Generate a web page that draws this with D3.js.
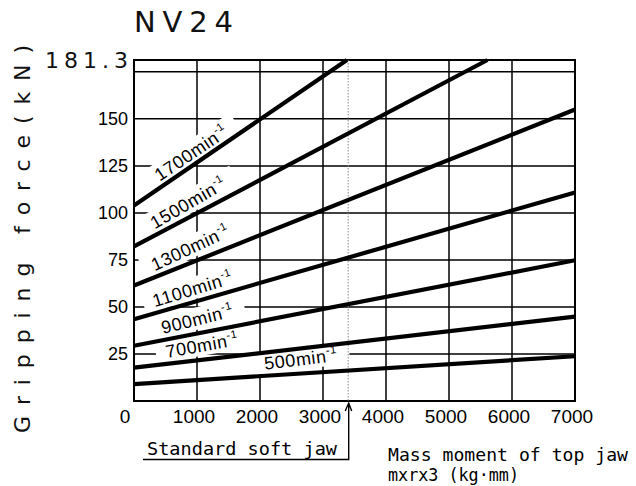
<!DOCTYPE html>
<html>
<head>
<meta charset="utf-8">
<script src="https://cdn.jsdelivr.net/npm/d3@7"></script>
<style>
  html, body { margin: 0; padding: 0; background: #fff; }
  svg { display: block; }
</style>
</head>
<body>
<svg id="chart" width="636" height="486"></svg>
<script>
// ---------------- data ----------------
const title = "NV24";
const speedLabels = ["1700", "1500", "1300", "1100", "900", "700", "500"];
// [mass moment (kg·mm), gripping force (kN)] : start and end of each line
const force1700 = [[0, 104.0], [3380, 181.3]];
const force1500 = [[0, 82.2], [5610, 181.3]];
const force1300 = [[0, 61.4], [7000, 155.0]];
const force1100 = [[0, 43.5], [7000, 110.9]];
const force900  = [[0, 29.4], [7000, 74.8]];
const force700  = [[0, 17.7], [7000, 44.9]];
const force500  = [[0, 9.0],  [7000, 23.8]];
const seriesValues = [force1700, force1500, force1300, force1100, force900, force700, force500];
// x-position (kg·mm) where each speed label starts
const labelAt = [410, 330, 330, 330, 460, 520, 2080];
const xTicks = [0, 1000, 2000, 3000, 4000, 5000, 6000, 7000];
const yTicks = [25, 50, 75, 100, 125, 150];
const yGrid = [25, 50, 75, 100, 125, 150, 175];
const yMax = 181.3;
const standardJaw = 3400;

// ---------------- drawing ----------------
const svg = d3.select("#chart");
const x = d3.scaleLinear().domain([0, 7000]).range([134, 575]);
const y = d3.scaleLinear().domain([0, yMax]).range([401, 60]);
const fNum = "'Liberation Sans', Arial, sans-serif";
const fWide = "'DejaVu Sans', Verdana, sans-serif";
const fMono = "'DejaVu Sans Mono', 'Liberation Mono', monospace";
const lineAngles = [34, 30, 25, 17, 14, 10, 7];

function labelTransform(d, i) {
  const s = seriesValues[i];
  const xv = labelAt[i];
  const yv = s[0][1] + (s[1][1] - s[0][1]) * (xv - s[0][0]) / (s[1][0] - s[0][0]);
  return `translate(${x(xv)},${y(yv) - 6}) rotate(${-lineAngles[i]})`;
}

const grid = svg.append("g");
// vertical grid
grid.selectAll("line.v").data(xTicks.slice(1, -1)).join("line")
  .attr("x1", d => x(d)).attr("x2", d => x(d))
  .attr("y1", y(yMax)).attr("y2", y(0))
  .attr("stroke", "#000").attr("stroke-width", 1.5);
// horizontal grid
grid.selectAll("line.h").data(yGrid).join("line")
  .attr("x1", x(0)).attr("x2", x(7000))
  .attr("y1", d => y(d)).attr("y2", d => y(d))
  .attr("stroke", "#000").attr("stroke-width", 1.5);

// white boxes behind the speed labels (grid is interrupted there)
const boxLayer = svg.append("g");

// border
svg.append("rect")
  .attr("x", x(0)).attr("y", y(yMax))
  .attr("width", x(7000) - x(0)).attr("height", y(0) - y(yMax))
  .attr("fill", "none").attr("stroke", "#000").attr("stroke-width", 2);

// standard soft jaw dotted line
svg.append("line")
  .attr("x1", x(standardJaw)).attr("x2", x(standardJaw))
  .attr("y1", y(yMax)).attr("y2", y(0))
  .attr("stroke", "#888").attr("stroke-width", 1).attr("stroke-dasharray", "1.5,1.5");

// data lines
const line = d3.line().x(d => x(d[0])).y(d => y(d[1]));
svg.append("g").selectAll("path").data(seriesValues).join("path")
  .attr("d", line).attr("fill", "none").attr("stroke", "#000").attr("stroke-width", 4.2);

// speed labels
const labelGroups = svg.append("g").selectAll("g").data(speedLabels).join("g")
  .attr("transform", labelTransform);
const texts = labelGroups.append("text")
  .attr("font-family", fNum).attr("font-size", 18).attr("letter-spacing", 0.6)
  .attr("fill", "#000");
texts.append("tspan").text(d => d + "min");
texts.append("tspan").attr("font-size", 11).attr("dy", -8).text("-1");
const widths = [];
texts.each(function () { widths.push(this.getComputedTextLength()); });
boxLayer.selectAll("rect").data(speedLabels).join("rect")
  .attr("transform", labelTransform)
  .attr("x", -10).attr("y", -18)
  .attr("width", (d, i) => widths[i] + 22).attr("height", 22)
  .attr("fill", "#fff");

// x tick labels
svg.append("g").selectAll("text").data(xTicks).join("text")
  .attr("x", d => d === 0 ? x(0) - 9 : x(d) - 3).attr("y", 423)
  .attr("text-anchor", "middle")
  .attr("font-family", fNum).attr("font-size", 19).attr("fill", "#000")
  .text(d => d);

// y tick labels
svg.append("g").selectAll("text").data(yTicks).join("text")
  .attr("x", 128).attr("y", d => y(d) + 6.5)
  .attr("text-anchor", "end")
  .attr("font-family", fNum).attr("font-size", 18).attr("fill", "#000")
  .text(d => d);

// top value label
svg.append("text")
  .attr("x", 45).attr("y", 68).attr("textLength", 83).attr("lengthAdjust", "spacing")
  .attr("font-family", fWide).attr("font-size", 22).attr("fill", "#111")
  .text(String(yMax));

// title
svg.append("text")
  .attr("x", 134).attr("y", 32).attr("textLength", 99).attr("lengthAdjust", "spacing")
  .attr("font-family", fWide).attr("font-size", 29).attr("fill", "#111")
  .text(title);

// y axis title
svg.append("text")
  .attr("transform", "translate(30,239) rotate(-90)")
  .attr("text-anchor", "middle")
  .attr("textLength", 388).attr("lengthAdjust", "spacing")
  .attr("font-family", fWide).attr("font-size", 22).attr("fill", "#111")
  .text("Gripping force(kN)");

// Standard soft jaw annotation
svg.append("text")
  .attr("x", 147).attr("y", 455).attr("textLength", 190).attr("lengthAdjust", "spacingAndGlyphs")
  .attr("font-family", fMono).attr("font-size", 17).attr("fill", "#000")
  .text("Standard soft jaw");
svg.append("path")
  .attr("d", `M143,459.5 H${x(standardJaw) + 0.5} V404 M${x(standardJaw) - 3},411 L${x(standardJaw) + 0.5},403 L${x(standardJaw) + 3.5},411`)
  .attr("fill", "none").attr("stroke", "#000").attr("stroke-width", 1.4);

// x axis title
svg.append("text")
  .attr("x", 388).attr("y", 461).attr("textLength", 240).attr("lengthAdjust", "spacingAndGlyphs")
  .attr("font-family", fMono).attr("font-size", 17).attr("fill", "#000")
  .text("Mass moment of top jaw");
svg.append("text")
  .attr("x", 388).attr("y", 481).attr("textLength", 131).attr("lengthAdjust", "spacingAndGlyphs")
  .attr("font-family", fMono).attr("font-size", 17).attr("fill", "#000")
  .text("mxrx3 (kg·mm)");
</script>
</body>
</html>
